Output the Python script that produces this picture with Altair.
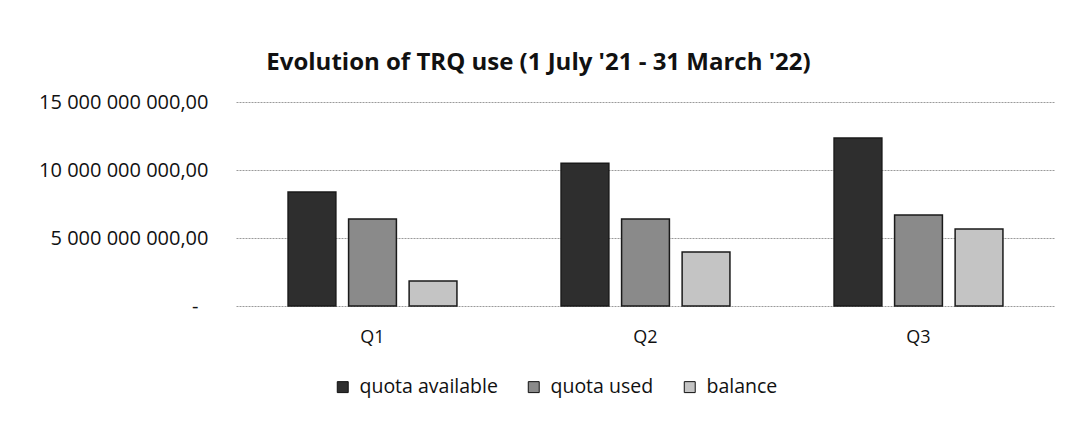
import altair as alt
import pandas as pd

quarters = ["Q1", "Q2", "Q3"]
series = ["quota available", "quota used", "balance"]
quota_available = [8.38e9, 10.5e9, 12.35e9]
quota_used = [6.4e9, 6.4e9, 6.7e9]
balance = [1.84e9, 3.97e9, 5.66e9]
y_ticks = [0, 5e9, 10e9, 15e9]
colors = ["#2e2e2e", "#8a8a8a", "#c4c4c4"]

rows = []
for i, q in enumerate(quarters):
    for s, vals in zip(series, [quota_available, quota_used, balance]):
        rows.append({"quarter": q, "series": s, "value": vals[i]})
df = pd.DataFrame(rows)

FONT = "Open Sans"

label_expr = ("datum.value == 0 ? '-\u2002\u200b' : "
              "replace(replace(format(datum.value, ',.2f'), /,/g, ' '), '.', ',')")

chart = alt.Chart(df).mark_bar(stroke="#1a1a1a", strokeWidth=1.5).encode(
    x=alt.X("quarter:N", sort=quarters, title=None,
            scale=alt.Scale(paddingInner=0, paddingOuter=0),
            axis=alt.Axis(labelAngle=0, ticks=False, domain=False, labelFont=FONT,
                          labelFontSize=18, labelColor="#111", labelPadding=22)),
    xOffset=alt.XOffset("series:N", sort=series,
                        scale=alt.Scale(paddingInner=0.21, paddingOuter=0.86)),
    y=alt.Y("value:Q", title=None,
            scale=alt.Scale(domain=[0, 15e9], nice=False),
            axis=alt.Axis(values=y_ticks, ticks=False, domain=False, labelFont=FONT,
                          labelFontSize=20, labelColor="#111", labelPadding=28,
                          gridColor="#9a9a9a", gridWidth=1, gridDash=[2, 1],
                          labelExpr=label_expr)),
    color=alt.Color("series:N", sort=series,
                    scale=alt.Scale(domain=series, range=colors),
                    legend=alt.Legend(title=None, orient="none", direction="horizontal",
                                      legendX=97, legendY=275, symbolType="square",
                                      symbolSize=120, symbolStrokeColor="#111",
                                      symbolStrokeWidth=1, labelFont=FONT,
                                      labelFontSize=19.5, labelColor="#111",
                                      columnPadding=26, labelOffset=7)),
).properties(
    width=819, height=204,
    title=alt.TitleParams("Evolution of TRQ use (1 July '21 - 31 March '22)",
                          font=FONT, fontSize=24, fontWeight="bold", color="#111",
                          anchor="middle", dx=-107, offset=17),
    autosize=alt.AutoSizeParams(type="none"),
    padding={"left": 228, "top": 94, "right": 5, "bottom": 100},
).configure_view(stroke=None)

chart.save("out.html", embed_options={"renderer": "svg", "actions": False})
